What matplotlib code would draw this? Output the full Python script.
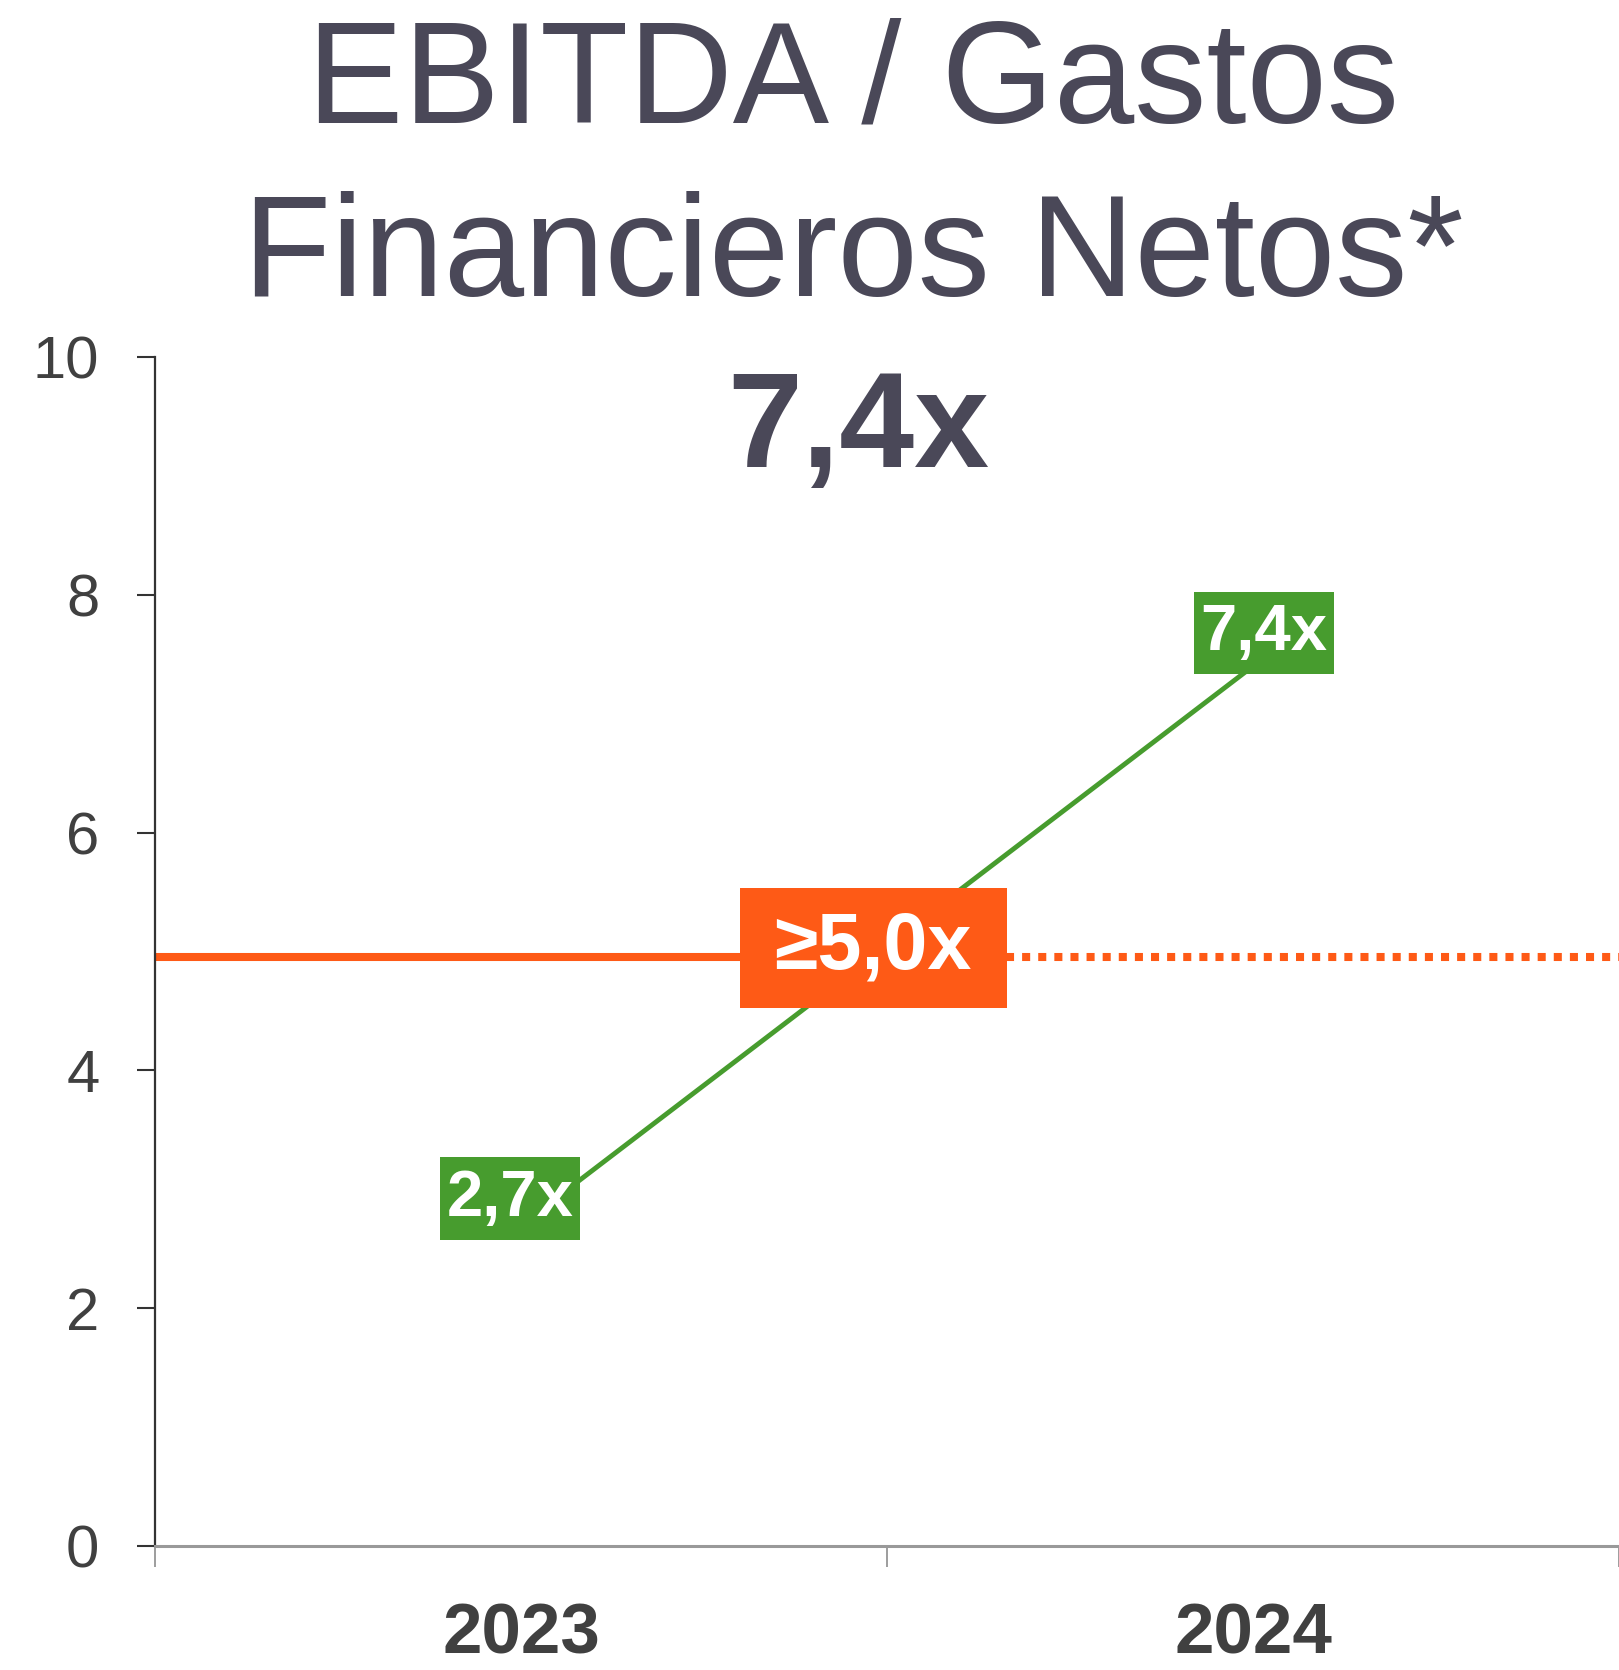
import matplotlib.pyplot as plt
from matplotlib.path import Path

OUT_FILE = "out.png"

# data
years = ["2023", "2024"]
ratio = [2.7, 7.4]
ratio_labels = ["2,7x", "7,4x"]
threshold = 4.95
threshold_label = "≥5,0x"
headline = "7,4x"
y_ticks = [0, 2, 4, 6, 8, 10]

TITLE_COLOR = "#4A4858"
TEXT_COLOR = "#404040"
GREEN = "#479C2E"
ORANGE = "#FE5A16"

plt.rcParams["font.family"] = ["Liberation Sans", "DejaVu Sans"]


def box_xy(px, py):
    # square box with separate horizontal / vertical padding
    def style(x0, y0, width, height, mutation_size):
        padx = px * mutation_size
        pady = py * mutation_size
        x0, y0 = x0 - padx, y0 - pady
        x1, y1 = x0 + width + 2 * padx, y0 + height + 2 * pady
        return Path([(x0, y0), (x1, y0), (x1, y1), (x0, y1), (x0, y0)], closed=True)
    return style


def main():
    fig = plt.figure(figsize=(16.19, 16.70), dpi=100)
    ax = fig.add_axes([155 / 1619, 1 - 1546 / 1670, 1 - 155 / 1619, (1546 - 357) / 1670])

    xs = [i + 0.5 for i in range(len(years))]

    # green line with boxed labels
    ax.plot(xs, ratio, color=GREEN, lw=3.5, zorder=3, solid_capstyle="butt")
    offsets = [(-8, 19), (8, 24)]
    for x, y, lab, off in zip(xs, ratio, ratio_labels, offsets):
        ax.annotate(lab, (x, y), xytext=off, textcoords="offset points",
                    ha="center", va="center", fontsize=47, fontweight="bold",
                    color="white", zorder=5,
                    bbox=dict(boxstyle=box_xy(0.1, 0.17), fc=GREEN, ec="none"))

    # threshold line: solid until box, dotted after
    split = 1.163
    ax.plot([0, split], [threshold, threshold], color=ORANGE, lw=5.8, zorder=2,
            solid_capstyle="butt")
    ax.plot([split, 2], [threshold, threshold], color=ORANGE, lw=5.8, zorder=2,
            linestyle=(0, (1, 1)), dash_capstyle="butt")
    ax.annotate(threshold_label, (split - 0.182, threshold),
                xytext=(0, 7), textcoords="offset points",
                ha="center", va="center", fontsize=57, fontweight="bold",
                color="white", zorder=6,
                bbox=dict(boxstyle=box_xy(0.44, 0.285), fc=ORANGE, ec="none"))

    ax.set_xlim(0, 2)
    ax.set_ylim(0, 10)
    ax.set_yticks(y_ticks)
    ax.set_yticklabels([str(v) for v in y_ticks])
    ax.tick_params(axis="y", length=13, width=1.5, color="#333333", pad=27,
                   labelsize=43, labelcolor=TEXT_COLOR)

    ax.set_xticks([0, 1, 2])
    ax.set_xticklabels([])
    ax.tick_params(axis="x", which="major", length=15, width=1.2, color="#8C8C8C")
    ax.set_xticks(xs, minor=True)
    ax.set_xticklabels(years, minor=True)
    ax.tick_params(axis="x", which="minor", length=0, pad=41, labelsize=51,
                   labelcolor=TEXT_COLOR)
    for lab in ax.get_xticklabels(minor=True):
        lab.set_fontweight("bold")

    for s in ["top", "right"]:
        ax.spines[s].set_visible(False)
    ax.spines["left"].set_color("#333333")
    ax.spines["left"].set_linewidth(1.6)
    ax.spines["bottom"].set_color("#999999")
    ax.spines["bottom"].set_linewidth(2.2)

    # titles
    fig.text(0.527, 1 - 122 / 1670, "EBITDA / Gastos", ha="center", va="baseline",
             fontsize=104, color=TITLE_COLOR)
    fig.text(0.527, 1 - 296 / 1670, "Financieros Netos*", ha="center", va="baseline",
             fontsize=104, color=TITLE_COLOR)
    fig.text(0.53, 1 - 467 / 1670, headline, ha="center", va="baseline",
             fontsize=97, fontweight="bold", color=TITLE_COLOR)

    fig.savefig(OUT_FILE, dpi=100)


if __name__ == "__main__":
    main()
